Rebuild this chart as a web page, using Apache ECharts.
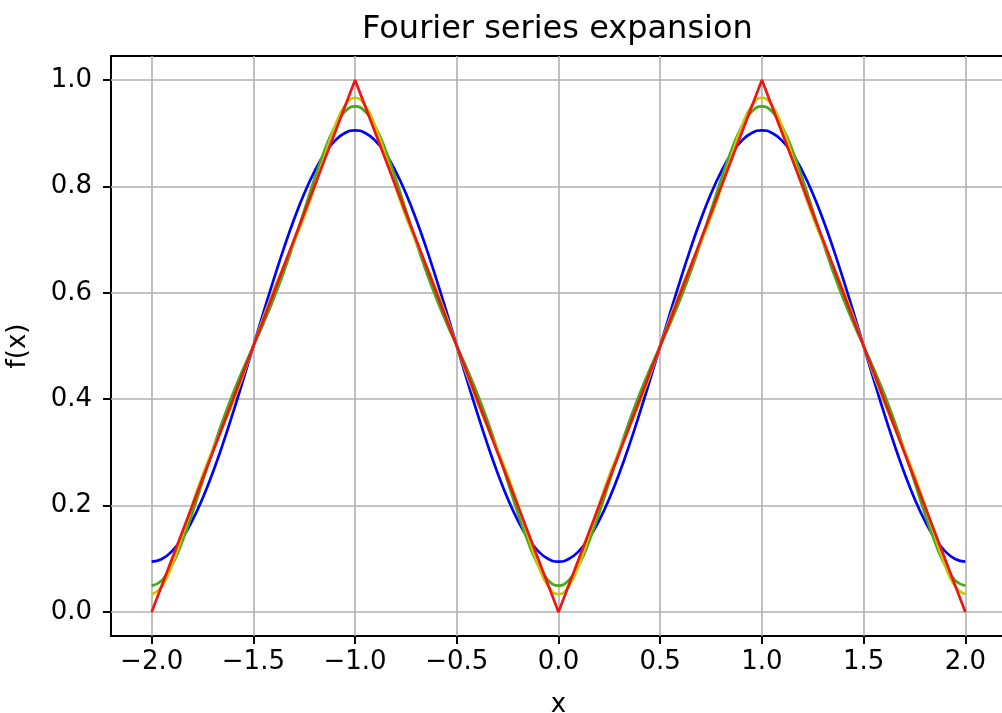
<!DOCTYPE html>
<html>
<head>
<meta charset="utf-8">
<script src="https://cdn.jsdelivr.net/npm/echarts@6/dist/echarts.min.js"></script>
<style>
  html, body { margin: 0; padding: 0; background: #ffffff; }
  #chart { width: 1002px; height: 713px; }
</style>
</head>
<body>
<div id="chart"></div>
<script>
// Tick positions shown on each axis
const xTicks = [-2.0, -1.5, -1.0, -0.5, 0.0, 0.5, 1.0, 1.5, 2.0];
const yTicks = [0.0, 0.2, 0.4, 0.6, 0.8, 1.0];

// Sample positions along x for the partial sums
const xs = [
  -2.00, -1.95, -1.90, -1.85, -1.80, -1.75, -1.70, -1.65, -1.60, -1.55,
  -1.50, -1.45, -1.40, -1.35, -1.30, -1.25, -1.20, -1.15, -1.10, -1.05,
  -1.00, -0.95, -0.90, -0.85, -0.80, -0.75, -0.70, -0.65, -0.60, -0.55,
  -0.50, -0.45, -0.40, -0.35, -0.30, -0.25, -0.20, -0.15, -0.10, -0.05,
   0.00,  0.05,  0.10,  0.15,  0.20,  0.25,  0.30,  0.35,  0.40,  0.45,
   0.50,  0.55,  0.60,  0.65,  0.70,  0.75,  0.80,  0.85,  0.90,  0.95,
   1.00,  1.05,  1.10,  1.15,  1.20,  1.25,  1.30,  1.35,  1.40,  1.45,
   1.50,  1.55,  1.60,  1.65,  1.70,  1.75,  1.80,  1.85,  1.90,  1.95,
   2.00
];

// First harmonic only
const oneTerm = [
  0.0947, 0.0997, 0.1146, 0.1389, 0.1721, 0.2134, 0.2618, 0.3160, 0.3748, 0.4366,
  0.5000, 0.5634, 0.6252, 0.6840, 0.7382, 0.7866, 0.8279, 0.8611, 0.8854, 0.9003,
  0.9053, 0.9003, 0.8854, 0.8611, 0.8279, 0.7866, 0.7382, 0.6840, 0.6252, 0.5634,
  0.5000, 0.4366, 0.3748, 0.3160, 0.2618, 0.2134, 0.1721, 0.1389, 0.1146, 0.0997,
  0.0947, 0.0997, 0.1146, 0.1389, 0.1721, 0.2134, 0.2618, 0.3160, 0.3748, 0.4366,
  0.5000, 0.5634, 0.6252, 0.6840, 0.7382, 0.7866, 0.8279, 0.8611, 0.8854, 0.9003,
  0.9053, 0.9003, 0.8854, 0.8611, 0.8279, 0.7866, 0.7382, 0.6840, 0.6252, 0.5634,
  0.5000, 0.4366, 0.3748, 0.3160, 0.2618, 0.2134, 0.1721, 0.1389, 0.1146, 0.0997,
  0.0947
];

// First and third harmonics
const twoTerms = [
  0.0497, 0.0596, 0.0881, 0.1319, 0.1860, 0.2452, 0.3046, 0.3605, 0.4112, 0.4570,
  0.5000, 0.5430, 0.5888, 0.6395, 0.6954, 0.7548, 0.8140, 0.8681, 0.9119, 0.9404,
  0.9503, 0.9404, 0.9119, 0.8681, 0.8140, 0.7548, 0.6954, 0.6395, 0.5888, 0.5430,
  0.5000, 0.4570, 0.4112, 0.3605, 0.3046, 0.2452, 0.1860, 0.1319, 0.0881, 0.0596,
  0.0497, 0.0596, 0.0881, 0.1319, 0.1860, 0.2452, 0.3046, 0.3605, 0.4112, 0.4570,
  0.5000, 0.5430, 0.5888, 0.6395, 0.6954, 0.7548, 0.8140, 0.8681, 0.9119, 0.9404,
  0.9503, 0.9404, 0.9119, 0.8681, 0.8140, 0.7548, 0.6954, 0.6395, 0.5888, 0.5430,
  0.5000, 0.4570, 0.4112, 0.3605, 0.3046, 0.2452, 0.1860, 0.1319, 0.0881, 0.0596,
  0.0497
];

// First, third and fifth harmonics
const threeTerms = [
  0.0335, 0.0481, 0.0881, 0.1434, 0.2022, 0.2567, 0.3046, 0.3490, 0.3950, 0.4455,
  0.5000, 0.5545, 0.6050, 0.6510, 0.6954, 0.7433, 0.7978, 0.8566, 0.9119, 0.9519,
  0.9665, 0.9519, 0.9119, 0.8566, 0.7978, 0.7433, 0.6954, 0.6510, 0.6050, 0.5545,
  0.5000, 0.4455, 0.3950, 0.3490, 0.3046, 0.2567, 0.2022, 0.1434, 0.0881, 0.0481,
  0.0335, 0.0481, 0.0881, 0.1434, 0.2022, 0.2567, 0.3046, 0.3490, 0.3950, 0.4455,
  0.5000, 0.5545, 0.6050, 0.6510, 0.6954, 0.7433, 0.7978, 0.8566, 0.9119, 0.9519,
  0.9665, 0.9519, 0.9119, 0.8566, 0.7978, 0.7433, 0.6954, 0.6510, 0.6050, 0.5545,
  0.5000, 0.4455, 0.3950, 0.3490, 0.3046, 0.2567, 0.2022, 0.1434, 0.0881, 0.0481,
  0.0335
];

// Triangle wave being approximated (corner points)
const triangleX = [-2.0, -1.0, 0.0, 1.0, 2.0];
const triangleY = [0.0, 1.0, 0.0, 1.0, 0.0];

const pairs = (xv, yv) => xv.map((x, i) => [x, yv[i]]);
const FONT = 'DejaVu Sans';
const fmt = v => v.toFixed(1).replace('-', '\u2212');

const chart = echarts.init(document.getElementById('chart'), null, { renderer: 'canvas' });

const lineSeries = (name, data, color, smooth) => ({
  name, type: 'line', data, smooth, showSymbol: false, symbol: 'none',
  lineStyle: { color, width: 2.7 }, animation: false, z: 3
});

chart.setOption({
  animation: false,
  backgroundColor: '#ffffff',
  textStyle: { fontFamily: FONT },
  graphic: [{
    type: 'text', left: 558 - 196, top: 14,
    style: { text: 'Fourier series expansion', font: '32px "DejaVu Sans"', fill: '#000000' }
  }],
  grid: {
    left: 111, top: 56, width: 895, height: 580,
    outerBoundsMode: 'none', containLabel: false,
    show: true, borderColor: '#000000', borderWidth: 2, backgroundColor: 'transparent'
  },
  xAxis: {
    type: 'value', min: -2.2, max: 2.2,
    name: 'x', nameLocation: 'middle', nameGap: 56,
    nameTextStyle: { fontFamily: FONT, fontSize: 26, color: '#000000' },
    axisLine: { show: false, onZero: false },
    axisTick: { show: true, customValues: xTicks, length: 8, lineStyle: { color: '#000000', width: 2 } },
    axisLabel: { customValues: xTicks, formatter: fmt, margin: 13, fontFamily: FONT, fontSize: 26, color: '#000000' },
    splitLine: { show: true, lineStyle: { color: '#b0b0b0', width: 1.6 } }
  },
  yAxis: {
    type: 'value', min: -0.045, max: 1.045,
    name: 'f(x)', nameLocation: 'middle', nameGap: 80, nameRotate: 90,
    nameTextStyle: { fontFamily: FONT, fontSize: 26, color: '#000000' },
    axisLine: { show: false, onZero: false },
    axisTick: { show: true, customValues: yTicks, length: 8, lineStyle: { color: '#000000', width: 2 } },
    axisLabel: { customValues: yTicks, formatter: fmt, margin: 19, fontFamily: FONT, fontSize: 26, color: '#000000' },
    splitLine: { show: true, lineStyle: { color: '#b0b0b0', width: 1.6 } }
  },
  series: [
    lineSeries('1 term', pairs(xs, oneTerm), '#0000ff', true),
    lineSeries('2 terms', pairs(xs, twoTerms), '#4aa81a', true),
    lineSeries('3 terms', pairs(xs, threeTerms), '#c8c800', true),
    lineSeries('triangle', pairs(triangleX, triangleY), '#f01414', false)
  ]
});
</script>
</body>
</html>
